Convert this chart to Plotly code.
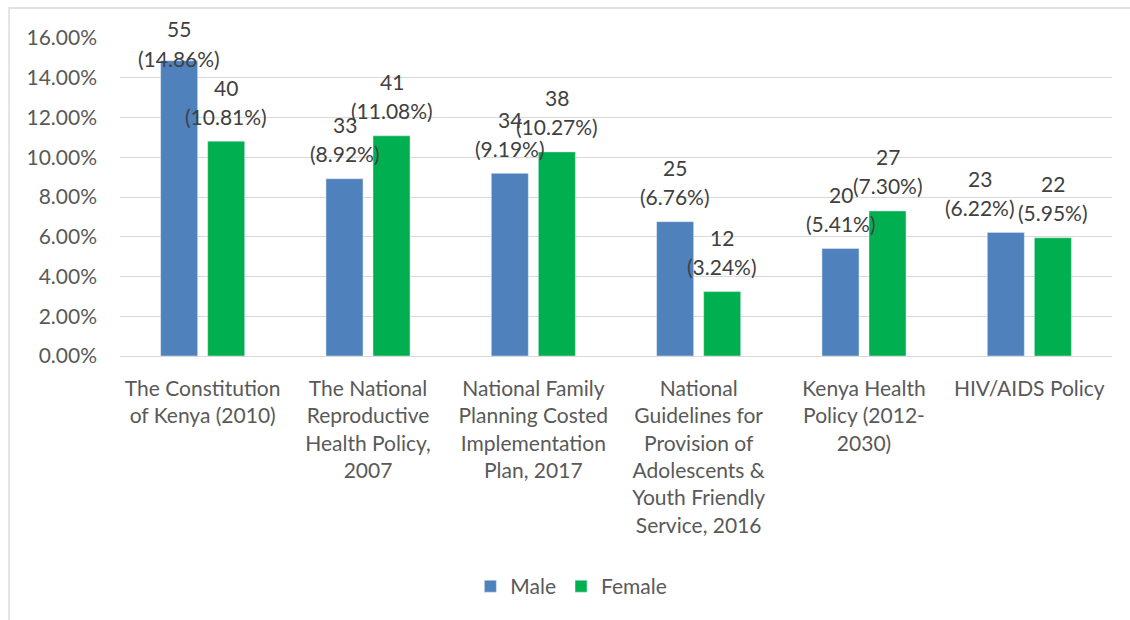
import plotly.graph_objects as go

categories = [
    "The Constitution<br>of Kenya (2010)",
    "The National<br>Reproductive<br>Health Policy,<br>2007",
    "National Family<br>Planning Costed<br>Implementation<br>Plan, 2017",
    "National<br>Guidelines for<br>Provision of<br>Adolescents &<br>Youth Friendly<br>Service, 2016",
    "Kenya Health<br>Policy (2012-<br>2030)",
    "HIV/AIDS Policy",
]
male_counts = [55, 33, 34, 25, 20, 23]
male_pct = [14.86, 8.92, 9.19, 6.76, 5.41, 6.22]
female_counts = [40, 41, 38, 12, 27, 22]
female_pct = [10.81, 11.08, 10.27, 3.24, 7.30, 5.95]

MALE_COLOR = "#4f81bd"
FEMALE_COLOR = "#00b050"
FONT = "Lato"
FS = 21
TICK_COLOR = "#595959"
LABEL_COLOR = "#404040"
GRID = "#d9d9d9"

fig = go.Figure()
fig.add_trace(go.Bar(name="Male", x=categories, y=male_pct, marker_color=MALE_COLOR,
                     hoverinfo="skip"))
fig.add_trace(go.Bar(name="Female", x=categories, y=female_pct, marker_color=FEMALE_COLOR,
                     hoverinfo="skip"))

# label placement (pixel offsets from each bar top), mimicking the source layout
BAR_OFFSET = 23.5
default_shift = (54, 25)
special = {("Male", 0): (0, 32, 2), ("Male", 5): (-26, 54, 25)}

annotations = []
for sname, counts, pcts, sign in (("Male", male_counts, male_pct, -1),
                                   ("Female", female_counts, female_pct, 1)):
    for i, (c, p) in enumerate(zip(counts, pcts)):
        dx, s1, s2 = special.get((sname, i), (0,) + default_shift)
        for txt, ys in ((str(c), s1), (f"({p:.2f}%)", s2)):
            annotations.append(dict(
                x=categories[i], y=p, xref="x", yref="y",
                text=txt, showarrow=False,
                xshift=sign * BAR_OFFSET + dx, yshift=ys,
                xanchor="center", yanchor="middle",
                font=dict(family=FONT, size=FS, color=LABEL_COLOR),
            ))

fig.update_layout(
    width=1130, height=620,
    margin=dict(l=120, r=18, t=38, b=264),
    paper_bgcolor="white", plot_bgcolor="white",
    barmode="group", bargap=0.431, bargroupgap=0.213,
    font=dict(family=FONT, size=FS, color=TICK_COLOR),
    showlegend=True,
    legend=dict(orientation="h", x=0.455, xanchor="center", y=-0.725, yanchor="middle",
                font=dict(family=FONT, size=FS, color=TICK_COLOR),
                itemwidth=30, traceorder="normal"),
    annotations=annotations,
    shapes=[dict(type="rect", xref="paper", yref="paper",
                 x0=(9 - 120) / 992, x1=(1140 - 120) / 992,
                 y0=(356 - 630) / 318, y1=(356 - 8) / 318,
                 line=dict(color=GRID, width=1.3), fillcolor="rgba(0,0,0,0)", layer="below")],
)
fig.update_yaxes(range=[0, 16], dtick=2, tickformat=".2f", ticksuffix="%",
                 showgrid=True, gridcolor=GRID, gridwidth=1.3,
                 zeroline=True, zerolinecolor=GRID, zerolinewidth=1.3,
                 showline=False, ticks="", ticklabelstandoff=22,
                 tickfont=dict(family=FONT, size=FS, color=TICK_COLOR))
fig.update_xaxes(showline=False, ticks="", ticklabelstandoff=18,
                 tickfont=dict(family=FONT, size=FS, color=TICK_COLOR), tickangle=0)

fig.write_html("out.html", config={"displayModeBar": False},
               post_script="document.body.style.margin='0';document.body.style.overflow='hidden';")
